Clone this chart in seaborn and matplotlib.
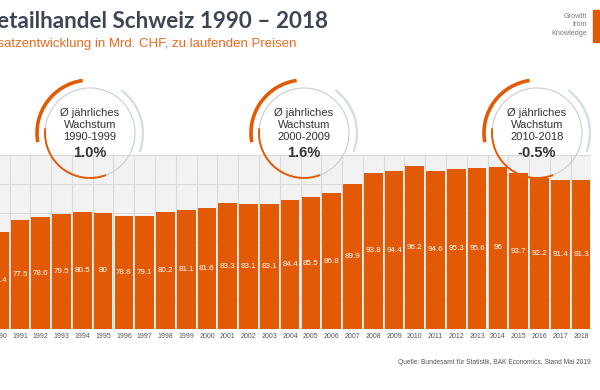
import matplotlib
matplotlib.use("Agg")
import matplotlib.pyplot as plt
from matplotlib.patches import Arc, Circle, Rectangle
import numpy as np
import pandas as pd
import seaborn as sns

sns.set_style('white')

# data
years = [str(y) for y in range(1990, 2019)]
sales = [73.4, 77.5, 78.6, 79.5, 80.5, 80.0, 78.8, 79.1, 80.2, 81.1,
         81.6, 83.3, 83.1, 83.1, 84.4, 85.5, 86.8, 89.9, 93.8, 94.4,
         96.2, 94.6, 95.3, 95.6, 96.0, 93.7, 92.2, 91.4, 91.3]
periods = ["1990-1999", "2000-2009", "2010-2018"]
growth = ["1.0%", "1.6%", "-0.5%"]

orange = '#e35a06'
dark = '#3d4654'
y_min = 40

df = pd.DataFrame({'Jahr': years, 'Umsatz': sales})

# the slide is cropped on the left, so the axes start outside the figure
fig = plt.figure(figsize=(6, 3.9), dpi=100)
ax = fig.add_axes([-20 / 600, 1 - 329 / 390, 611 / 600, (329 - 155) / 390])
ax.set_facecolor('#f2f2f2')

sns.barplot(data=df, x='Jahr', y='Umsatz', color=orange, saturation=1,
            width=0.9, edgecolor='none', ax=ax, zorder=3)

# value labels in the middle of the visible bar part
for i, v in enumerate(sales):
    ax.text(i, (y_min + v) / 2, f"{v:g}", ha='center', va='center',
            color='white', fontsize=5.8, family='Liberation Sans', zorder=4)

ax.set_yticks(np.arange(40, 101, 10))
ax.set_yticklabels([])
ax.set_xticks(np.arange(-0.5, 29, 1), minor=True)
ax.set_xlim(-0.924, 28.48)
ax.set_ylim(y_min, 100)
ax.grid(which='minor', axis='x', color='#dadada', lw=0.8)
ax.grid(which='major', axis='y', color='#dadada', lw=0.8)
ax.set_axisbelow(True)
ax.tick_params(axis='both', length=0, which='both')
ax.tick_params(axis='x', labelsize=5, labelcolor='#555555', pad=3)
for lab in ax.get_xticklabels():
    lab.set_family('Liberation Sans')
ax.set_xlabel('')
ax.set_ylabel('')
sns.despine(ax=ax, left=True, bottom=True)

# overlay in pixel coordinates for the decorations
ov = fig.add_axes([0, 0, 1, 1])
ov.set_xlim(0, 600)
ov.set_ylim(390, 0)
ov.axis('off')

centers = [90, 304, 537]
cy = 133
for cx, per, g in zip(centers, periods, growth):
    ov.add_patch(Circle((cx, cy), 45, fill=False, ec='#cccccc', lw=0.8))
    # y axis inverted, so angles are mirrored
    ov.add_patch(Arc((cx, cy), 106, 106, theta1=-190, theta2=-98, color=orange, lw=2.6))
    ov.add_patch(Arc((cx, cy), 106, 106, theta1=-54, theta2=21, color='#d3dbe3', lw=1.6))
    ov.add_patch(Arc((cx, cy), 90, 90, theta1=69, theta2=186, color=orange, lw=1.4))
    ov.text(cx, cy - 8, "Ø jährliches\nWachstum\n" + per, ha='center', va='center',
            fontsize=8, color='#333333', family='Liberation Sans', linespacing=1.2)
    ov.text(cx, cy + 20, g, ha='center', va='center', fontsize=10.5,
            fontweight='bold', color='#333333', family='Liberation Sans')

# titles (left part cut off by the slide edge, as in the original)
ov.text(-20, 22, "Detailhandel Schweiz 1990 – 2018", ha='left', va='center',
        fontsize=16.2, fontweight='bold', color=dark, family='Lato')
ov.text(-23, 44, "Umsatzentwicklung in Mrd. CHF, zu laufenden Preisen", ha='left',
        va='center', fontsize=9.5, color='#ea6a1e', family='Liberation Sans')

# logo top right
ov.text(587, 25, "Growth\nfrom\nKnowledge", ha='right', va='center', fontsize=5.2,
        color='#777777', family='Liberation Sans', linespacing=1.35)
ov.add_patch(Rectangle((593, 10), 20, 32, color=orange))

# source
ov.text(591, 363, "Quelle: Bundesamt für Statistik, BAK Economics, Stand Mai 2019",
        ha='right', va='center', fontsize=4.8, color='#555555', family='Liberation Sans')

fig.savefig('out.png', dpi=100)
